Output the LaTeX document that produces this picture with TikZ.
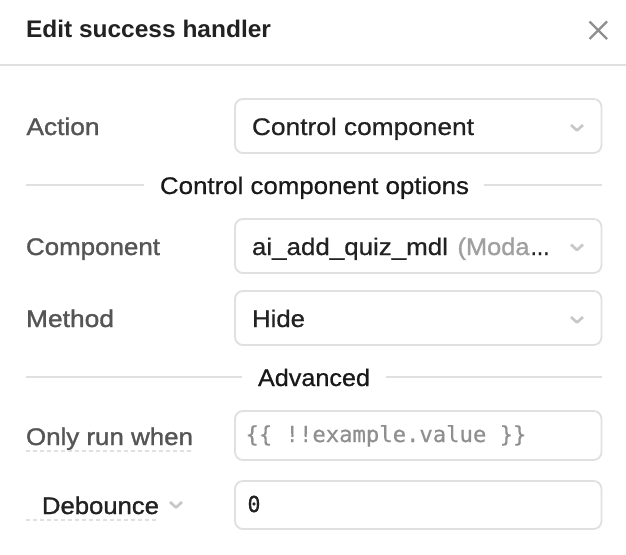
\documentclass[tikz,border=0pt]{standalone}
\usepackage{fontspec}
\usepackage{graphicx}
\setmainfont{Liberation Sans}[UprightFeatures={FakeBold=0.6}]
\newfontfamily\semib{Liberation Sans Bold}
\newfontfamily\medf{Liberation Sans}[UprightFeatures={FakeBold=1.2}]
\newfontfamily\monof{DejaVu Sans Mono}[UprightFeatures={FakeBold=0.5}]
\definecolor{labelc}{HTML}{555555}
\definecolor{inkc}{HTML}{222222}
\definecolor{edgec}{HTML}{E0E0E0}
\definecolor{chevc}{HTML}{C8C8C8}
\definecolor{mutedc}{HTML}{A0A0A0}
\definecolor{holderc}{HTML}{8F8F8F}
\newsavebox\fitbox
\newcommand\fitw[2]{\sbox\fitbox{#2}\pgfmathsetmacro\fitf{#1/\the\wd\fitbox}\scalebox{\fitf}[1]{\usebox\fitbox}}
\tikzset{
  txt/.style={anchor=base west,inner sep=0pt,outer sep=0pt},
  fieldbox/.style={draw=edgec,line width=1.8pt,rounded corners=8pt,fill=white},
  rule/.style={draw=edgec,line width=1.5pt},
  chev/.style={draw=chevc,line width=2.7pt,line join=round},
  hint/.style={draw=edgec,line width=1.2pt,dash pattern=on 4pt off 3pt},
  closex/.style={draw=holderc,line width=2.4pt},
  lab/.style={txt,text=labelc,font=\fontsize{24}{28}\selectfont\medf},
  val/.style={txt,text=inkc,font=\fontsize{24}{28}\selectfont},
  sect/.style={txt,text=black!90,font=\fontsize{24}{28}\selectfont},
  mono/.style={txt,font=\fontsize{22}{26}\selectfont\monof},
}
\begin{document}
\begin{tikzpicture}[x=1pt,y=-1pt]
\useasboundingbox[fill=white] (0,0) rectangle (626,554);
% header
\node[txt,text=inkc,font=\fontsize{24}{28}\selectfont\semib] (title) at (26,37) {\fitw{245}{Edit success handler}};
\draw[closex] (589.5,21.5) -- (607,39) (607,21.5) -- (589.5,39);
\draw[rule] (0,65) -- (626,65);
% field boxes
\draw[fieldbox] (235,99) rectangle (601.5,153);
\draw[fieldbox] (235,219) rectangle (601.5,273);
\draw[fieldbox] (235,291) rectangle (601.5,345);
\draw[fieldbox] (235,411) rectangle (601.5,460);
\draw[fieldbox] (235,481) rectangle (601.5,529);
% labels
\node[lab] (action) at (26.5,135) {\fitw{73}{Action}};
\node[lab] (component) at (26,255) {\fitw{134}{Component}};
\node[lab] (method) at (26,327) {\fitw{88}{Method}};
\node[lab] (onlyrun) at (26,445) {\fitw{167}{Only run when}};
\node[val,font=\fontsize{24}{28}\selectfont\medf] (debounce) at (42,514) {\fitw{117}{Debounce}};
% values
\node[val] (v1) at (252,135) {\fitw{222}{Control component}};
\node[val] (v2) at (252,255) {\fitw{196}{ai\_add\_quiz\_mdl}};
\node[txt,text=mutedc,font=\fontsize{24}{28}\selectfont\medf] (v2b) at (457.5,255) {\fitw{72}{(Moda}};
\node[val] (v2c) at (530.5,255) {\fitw{19}{...}};
\node[val] (v3) at (252,327) {\fitw{53}{Hide}};
\node[mono,text=holderc] (v4) at (245.5,442) {\fitw{281}{\{\{ !!example.value \}\}}};
\node[mono,text=inkc] (v5) at (247.5,512) {\fitw{13}{0}};
% sections
\node[sect] (s1) at (160,194) {\fitw{309}{Control component options}};
\node[sect] (s2) at (258,386) {\fitw{112}{Advanced}};
\draw[rule] (26,185) -- (144,185) (484,185) -- (602,185);
\draw[rule] (26,377) -- (242,377) (386,377) -- (602,377);
% chevrons
\draw[chev] (571,125) -- (577,130.5) -- (583,125);
\draw[chev] (571,244.5) -- (577,250) -- (583,244.5);
\draw[chev] (571,317) -- (577,322.5) -- (583,317);
\draw[chev] (170,502) -- (176,507.5) -- (182,502);
% hint underlines
\draw[hint] (26,451) -- (192,451);
\draw[hint] (26,520) -- (158,520);
\end{tikzpicture}
\end{document}
